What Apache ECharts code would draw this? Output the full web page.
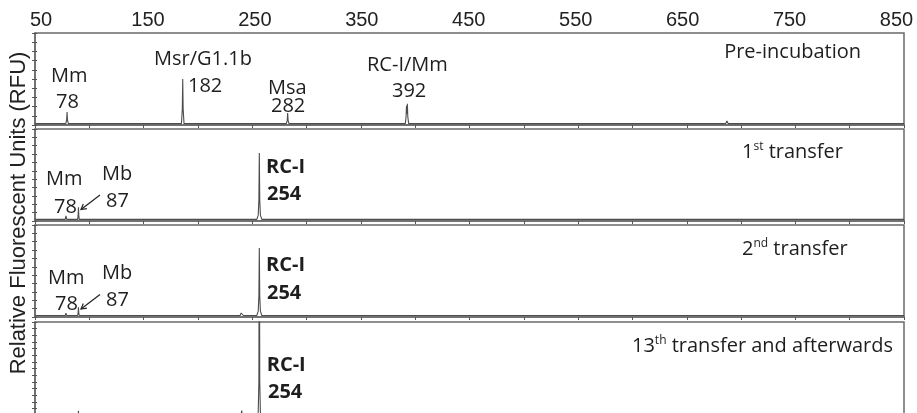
<!DOCTYPE html>
<html><head><meta charset="utf-8">
<script src="https://cdn.jsdelivr.net/npm/echarts@6/dist/echarts.min.js"></script>
<style>html,body{margin:0;padding:0;background:#fff}#c{width:917px;height:413px}</style>
</head><body><div id="c"></div>
<script>
// ---- data (fragment size in bp, relative fluorescence) ----
const sizeMin = 50, sizeMax = 850;
const tickLabels = [50, 150, 250, 350, 450, 550, 650, 750, 850];
const panelTitles = ['Pre-incubation', '1st transfer', '2nd transfer', '13th transfer and afterwards'];
const rfuMax = [10000, 11000, 11000, 15000];

const preIncubation = [
  [50,150],
  [78.3,150],[79.1,520],[79.5,1400],[79.9,520],[80.7,150],
  [87.8,150],[88.5,330],[89.2,150],
  [184.8,150],[185.6,1700],[186.0,5000],[186.4,1700],[187.2,150],
  [227.5,150],[228,230],[228.5,150],
  [281.4,150],[282.2,500],[282.6,1300],[283.0,500],[283.8,150],
  [319.5,150],[320,220],[320.5,150],
  [390.9,150],[391.6,900],[392.0,2100],[392.4,1200],[392.8,2300],[393.2,900],[394.0,150],
  [489.5,150],[490,230],[490.5,150],
  [514.5,150],[515,230],[515.5,150],
  [643.5,150],[644,210],[644.5,150],
  [685.8,150],[687,450],[688.2,150],
  [715.2,150],[716,260],[716.8,150],
  [722.4,150],[723,240],[723.6,150],
  [850,150]
];
const transfer1 = [
  [50,200],
  [77.8,200],[78.5,600],[79.2,200],
  [89.3,200],[89.7,700],[90.0,1650],[90.3,700],[90.7,200],
  [254.2,200],[255.5,700],[256.1,2500],[256.5,8130],[256.9,2500],[257.5,700],[258.8,200],
  [391.8,200],[392.5,400],[393.2,200],
  [850,200]
];
const transfer2 = [
  [50,180],
  [77.8,180],[78.5,450],[79.2,180],
  [89.3,180],[89.7,500],[90.0,1160],[90.3,500],[90.7,180],
  [238.8,180],[239.8,480],[240.3,600],[240.8,480],[241.8,180],
  [254.2,180],[255.5,700],[256.1,2500],[256.5,8250],[256.9,2500],[257.5,700],[258.8,180],
  [391.5,180],[392.5,360],[393.5,180],
  [686,180],[687,300],[688,180],
  [850,180]
];
const transfer13 = [
  [50,180],
  [77.8,180],[78.5,500],[79.2,180],
  [89.3,180],[89.7,800],[90.0,1700],[90.3,800],[90.7,180],
  [238.8,180],[239.8,1100],[240.3,1700],[240.8,1100],[241.8,180],
  [254.2,180],[255.5,1500],[256.1,6000],[256.5,40000],[256.9,6000],[257.5,1500],[258.8,180],
  [850,180]
];
const traces = [preIncubation, transfer1, transfer2, transfer13];

// ---- layout ----
const gridTops = [33, 129, 225, 322];
const gridHeights = [92, 92, 92, 100];
const LINE = '#6a6a6a', TRACE = '#4d4d4d', TXT = '#1e1e1e';
const ANN = 'Open Sans';

const grid = [], xAxis = [], yAxis = [], series = [];
for (let i = 0; i < 4; i++) {
  grid.push({left: 35, width: 869, top: gridTops[i], height: gridHeights[i], show: true,
    outerBoundsMode: 'none', containLabel: false,
    borderColor: LINE, borderWidth: 1.5, backgroundColor: 'transparent'});
  xAxis.push({type: 'value', gridIndex: i, position: 'top', min: sizeMin, max: sizeMax, interval: 50,
    axisLine: {show: true, lineStyle: {color: LINE, width: 1.5}},
    axisTick: {show: true, inside: true, length: 3, lineStyle: {color: '#555', width: 1}},
    axisLabel: {show: false}, splitLine: {show: false}});
}
for (let i = 0; i < 4; i++) {
  yAxis.push({type: 'value', gridIndex: i, position: 'left', min: 0, max: rfuMax[i], interval: 1000,
    axisLine: {show: true, lineStyle: {color: LINE, width: 1.5}},
    axisTick: {show: true, inside: false, length: 3, lineStyle: {color: '#555', width: 1}},
    axisLabel: {show: false}, splitLine: {show: false}});
}
for (let i = 0; i < 4; i++) {
  yAxis.push({type: 'value', gridIndex: i, position: 'left', min: 0, max: rfuMax[i], interval: 1000,
    axisLine: {show: false},
    axisTick: {show: true, inside: true, length: 2, lineStyle: {color: '#555', width: 1}},
    axisLabel: {show: false}, splitLine: {show: false}});
}
// label-only axis for the top scale
grid.push({left: 41, width: 855.5, top: 33, height: 10, show: false, outerBoundsMode: 'none', containLabel: false});
xAxis.push({type: 'value', gridIndex: 4, position: 'top', min: sizeMin, max: sizeMax, interval: 100,
  axisLine: {show: false}, axisTick: {show: false}, splitLine: {show: false},
  axisLabel: {show: true, margin: 3, color: '#222', fontFamily: 'Liberation Sans', fontSize: 20,
    showMinLabel: true, showMaxLabel: true,
    formatter: v => tickLabels.indexOf(v) >= 0 ? String(v) : ''}});
yAxis.push({type: 'value', gridIndex: 4, show: false, min: 0, max: 1});

for (let i = 0; i < 4; i++) {
  series.push({type: 'line', xAxisIndex: i, yAxisIndex: i, data: traces[i], showSymbol: false,
    symbol: 'none', clip: true, animation: false,
    lineStyle: {color: TRACE, width: 1.1}});
}

// ---- annotations ----
function txt(x, y, text, opt) {
  opt = opt || {};
  return {type: 'text', x: x, y: y, silent: true, z: 100, style: {text: text, x: 0, y: 0,
    font: (opt.bold ? 'bold ' : '') + (opt.size || 20) + 'px "' + (opt.family || ANN) + '"',
    fill: TXT, align: opt.align || 'left', verticalAlign: 'middle'}};
}
function sup(x, y, main, s, rest) {
  return {type: 'text', x: x, y: y, silent: true, z: 100, style: {
    text: '{a|' + main + '}{s|' + s + '}{a|' + rest + '}', x: 0, y: 0, align: 'left', verticalAlign: 'middle',
    rich: {
      a: {fontFamily: ANN, fontSize: 20, lineHeight: 24, fill: TXT},
      s: {fontFamily: ANN, fontSize: 12, lineHeight: 12, verticalAlign: 'top', fill: TXT}
    }}};
}
function arrow(x1, y1, x2, y2, dy) {
  return [
    {type: 'line', silent: true, z: 100, shape: {x1: x1, y1: y1 + dy, x2: x2, y2: y2 + dy},
      style: {stroke: '#222', lineWidth: 1.2}},
    {type: 'polyline', silent: true, z: 100,
      shape: {points: [[x2 + 5.9, y2 - 0.8 + dy], [x2, y2 + dy], [x2 + 2.3, y2 - 5.5 + dy]]},
      style: {stroke: '#222', lineWidth: 1.2, fill: null}}
  ];
}

const graphic = [
  {type: 'text', x: 19, y: 213, rotation: Math.PI / 2, silent: true,
    style: {text: 'Relative Fluorescent Units (RFU)', x: 0, y: 0, font: '22px "Liberation Sans"',
      fill: '#222', align: 'center', verticalAlign: 'middle'}},
  // panel 1
  txt(51, 76.3, 'Mm'), txt(56, 102.3, '78'),
  txt(154, 59.7, 'Msr/G1.1b'), txt(188, 86.3, '182'),
  txt(268, 88, 'Msa'), txt(271, 106.3, '282'),
  txt(367, 65.7, 'RC-I/Mm'), txt(392, 91, '392'),
  txt(861, 52.3, panelTitles[0], {align: 'right'}),
  // panel 2
  txt(46, 179.7, 'Mm'), txt(102, 174.7, 'Mb'), txt(54, 207, '78'), txt(106, 201.2, '87'),
  txt(266, 167.3, 'RC-I', {bold: true}), txt(267, 194, '254', {bold: true}),
  sup(742, 152.3, '1', 'st', ' transfer'),
  // panel 3
  txt(48, 278, 'Mm'), txt(102, 273.7, 'Mb'), txt(55, 304.7, '78'), txt(106, 300.3, '87'),
  txt(266, 265.7, 'RC-I', {bold: true}), txt(267, 293, '254', {bold: true}),
  sup(742, 249.7, '2', 'nd', ' transfer'),
  // panel 4
  txt(266.7, 365.7, 'RC-I', {bold: true}), txt(268, 392.3, '254', {bold: true}),
  sup(632, 346.3, '13', 'th', ' transfer and afterwards')
].concat(arrow(100, 195, 81, 209.5, 0)).concat(arrow(100, 195, 81, 209.5, 99.5));

const chart = echarts.init(document.getElementById('c'), null, {renderer: 'canvas'});
chart.setOption({animation: false, backgroundColor: '#fff', grid: grid, xAxis: xAxis, yAxis: yAxis,
  series: series, graphic: graphic, tooltip: {show: false}});
</script></body></html>
